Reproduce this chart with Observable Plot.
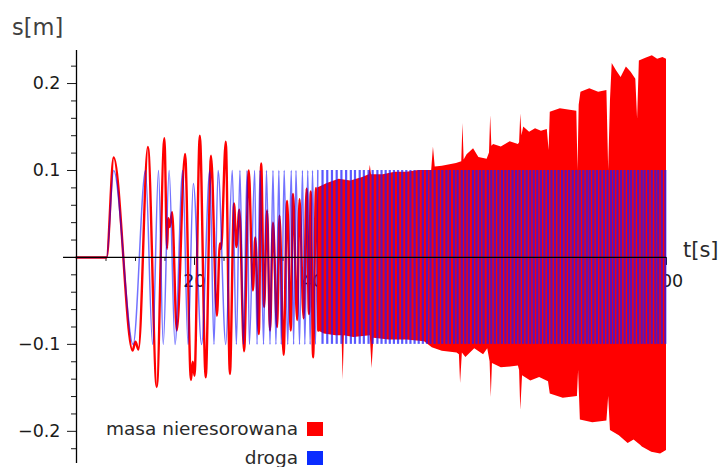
<!DOCTYPE html>
<html>
<head>
<meta charset="utf-8">
<script src="https://cdn.jsdelivr.net/npm/d3@7"></script>
<script src="https://cdn.jsdelivr.net/npm/@observablehq/plot@0.6"></script>
<style>
  body { margin: 0; background: #fff; }
  #chart { width: 726px; height: 467px; overflow: hidden; }
  #chart svg { overflow: visible; }
</style>
</head>
<body>
<div id="chart"></div>
<script>
// Unsprung mass displacement s [m] at its turning points, up to t = 41 s
const massT = [0, 5.1, 6.3, 9.5, 10.0, 10.5, 12.1, 13.6, 14.9, 15.35, 15.55, 15.8, 16.2, 17.0, 18.4, 19.4, 19.7, 20.0, 20.9, 21.9, 22.8, 23.8, 24.3, 24.5, 25.3, 26.0, 26.7, 27.1, 27.6, 28.4, 29.2, 29.9, 30.3, 30.9, 31.3, 31.8, 32.3, 32.8, 33.3, 34.0, 34.4, 35.1, 35.7, 36.3, 36.7, 37.4, 37.8, 38.5, 39.0, 39.4, 39.7, 40.1, 40.6, 41.0];
const massS = [0, 0, 0.115, -0.107, -0.097, -0.106, 0.127, -0.149, 0.137, 0.01, 0.045, 0.035, 0.052, -0.084, 0.119, -0.141, -0.12, -0.136, 0.14, -0.138, 0.117, -0.067, 0.016, 0.01, 0.133, -0.134, 0.062, 0.012, 0.055, -0.108, 0.1, -0.038, 0.023, -0.088, 0.108, -0.057, 0.054, -0.084, 0.04, -0.08, 0.048, -0.112, 0.065, -0.084, 0.073, -0.072, 0.067, -0.07, 0.079, -0.065, 0.076, -0.115, 0.08, -0.084];

// Road profile (droga) turning points, up to t = 41 s
const roadT = [0, 5.1, 6.3, 9.6, 11.7, 12.9, 13.9, 14.7, 15.7, 16.7, 18.0, 18.9, 19.8, 21.2, 22.6, 23.3, 24.0, 25.3, 26.4, 27.1, 27.7, 28.3, 28.9, 29.3, 30.2, 30.6, 31.1, 31.7, 32.2, 32.8, 33.3, 33.8, 34.3, 34.7, 35.2, 35.8, 36.4, 36.8, 37.2, 37.8, 38.3, 38.7, 39.2, 39.6, 40.0, 40.5, 40.9];
const roadS = [0, 0, 0.1, -0.1, 0.1, -0.1, 0.1, -0.1, 0.1, -0.1, 0.1, -0.1, 0.085, -0.1, 0.1, -0.1, 0.1, -0.1, 0.1, -0.1, 0.1, -0.1, 0.1, -0.1, 0.1, -0.1, 0.1, -0.1, 0.1, -0.1, 0.1, -0.1, 0.1, -0.1, 0.1, -0.1, 0.1, -0.1, 0.1, -0.1, 0.1, -0.1, 0.1, -0.1, 0.1, -0.1, 0.1];

// Road profile after 41 s: one stroke per oscillation, amplitude 0.1 m
const roadAmp = 0.1;
const roadCycleT = [41.7, 42.5, 43.3, 44.1, 44.9, 45.7, 46.5, 47.2, 48.0, 48.7, 49.5, 50.2, 51.0, 51.7, 52.4, 53.1, 53.8, 54.5, 55.2, 55.9, 56.6, 57.3, 58.0, 58.7, 59.4, 60.0, 60.7, 61.4, 62.0, 62.7, 63.3, 64.0, 64.6, 65.3, 65.9, 66.5, 67.2, 67.8, 68.4, 69.0, 69.7, 70.3, 70.9, 71.5, 72.1, 72.7, 73.3, 73.9, 74.5, 75.1, 75.7, 76.3, 76.9, 77.5, 78.1, 78.7, 79.3, 79.9, 80.5, 81.1, 81.7, 82.3, 82.9, 83.5, 84.1, 84.7, 85.3, 85.9, 86.5, 87.0, 87.6, 88.2, 88.8, 89.4, 90.0, 90.6, 91.1, 91.7, 92.3, 92.9, 93.5, 94.0, 94.6, 95.2, 95.8, 96.3, 96.9, 97.5, 98.1, 98.6, 99.2, 99.8];

// Mass displacement after 41 s: upper and lower envelope of the oscillation
const envUpT = [40.9, 42.5, 44.5, 46.5, 48.5, 49.6, 49.8, 50.0, 52.0, 54.0, 56.0, 58.0, 60.2, 60.5, 60.8, 62.0, 64.4, 65.3, 65.5, 65.7, 66.2, 67.3, 68.2, 69.6, 70.0, 70.2, 70.4, 70.7, 72.0, 73.5, 74.9, 75.1, 75.3, 75.5, 75.8, 76.8, 77.8, 78.8, 79.8, 80.1, 80.3, 82.0, 84.8, 85.0, 85.2, 85.5, 87.0, 88.5, 89.9, 90.2, 90.5, 90.8, 91.5, 92.3, 93.2, 94.0, 94.8, 95.1, 95.4, 96.5, 97.6, 98.5, 99.4, 100];
const envUpS = [0.08, 0.085, 0.09, 0.088, 0.092, 0.095, 0.106, 0.095, 0.095, 0.098, 0.098, 0.1, 0.1, 0.127, 0.104, 0.105, 0.108, 0.11, 0.154, 0.112, 0.118, 0.125, 0.115, 0.113, 0.12, 0.163, 0.128, 0.13, 0.127, 0.133, 0.13, 0.132, 0.165, 0.14, 0.15, 0.144, 0.148, 0.145, 0.147, 0.123, 0.167, 0.171, 0.168, 0.1, 0.175, 0.19, 0.194, 0.19, 0.192, 0.1, 0.18, 0.223, 0.215, 0.207, 0.219, 0.213, 0.205, 0.159, 0.226, 0.229, 0.232, 0.228, 0.23, 0.228];
const envLoT = [40.9, 42.0, 44.0, 45.0, 45.2, 45.4, 47.0, 49.8, 50.1, 50.4, 53.0, 56.0, 59.0, 60.3, 62.0, 64.5, 64.9, 65.1, 65.4, 66.0, 67.5, 69.0, 69.7, 70.1, 70.3, 70.5, 72.0, 74.9, 75.1, 75.3, 75.6, 77.0, 78.5, 80.0, 80.3, 82.5, 84.9, 85.1, 85.4, 87.5, 89.9, 90.2, 90.5, 92.0, 93.5, 94.5, 95.6, 95.9, 97.5, 99.0, 100];
const envLoS = [-0.084, -0.088, -0.09, -0.09, -0.141, -0.09, -0.092, -0.09, -0.128, -0.093, -0.095, -0.095, -0.097, -0.104, -0.108, -0.11, -0.112, -0.145, -0.11, -0.115, -0.105, -0.112, -0.105, -0.12, -0.161, -0.122, -0.127, -0.125, -0.13, -0.176, -0.136, -0.142, -0.138, -0.143, -0.157, -0.162, -0.16, -0.13, -0.187, -0.19, -0.188, -0.16, -0.199, -0.205, -0.214, -0.21, -0.216, -0.218, -0.224, -0.226, -0.222];

// Axis ticks
const yTicks = [-0.2, -0.1, 0.1, 0.2];
const yMinorTicks = [-0.22, -0.18, -0.16, -0.14, -0.12, -0.08, -0.06, -0.04, -0.02, 0.02, 0.04, 0.06, 0.08, 0.12, 0.14, 0.16, 0.18, 0.22];
const xTicks = [20, 40, 60, 80, 100];
const xMinorTicks = [5, 10, 15, 25, 30, 35, 45, 50, 55, 65, 70, 75, 85, 90, 95];

const seriesNames = ["masa nieresorowana", "droga"];
const seriesColors = ["#ff0000", "#0a2cff"];

const W = 726, H = 467;
const marginTop = 50, marginBottom = 4, marginLeft = 76, marginRight = 60;
const yDomain = [-0.237, 0.238];
const pxPerY = (H - marginTop - marginBottom) / (yDomain[1] - yDomain[0]);

const mass = massT.map((t, i) => ({t, s: massS[i]}));
const road = roadT.map((t, i) => ({t, s: roadS[i]}));
const envUp = envUpT.map((t, i) => ({t, s: envUpS[i]}));
const envLo = envLoT.map((t, i) => ({t, s: envLoS[i]}));

const font = "DejaVu Sans";
const svg = Plot.plot({
  width: W, height: H,
  marginTop, marginBottom, marginLeft, marginRight,
  x: {domain: [0, 100], axis: null},
  y: {domain: yDomain},
  style: {fontFamily: font, fontSize: "17.5px", color: "#1a1a1a", background: "transparent", overflow: "visible"},
  marks: [
    // axis ticks and labels (drawn beneath the curves)
    Plot.axisY(yMinorTicks, {tickSize: 5, tickFormat: () => "", label: null}),
    Plot.axisY(yTicks, {tickSize: 9, tickPadding: 7, tickFormat: d3.format(".1f"), label: null, fontSize: 17.5}),
    Plot.ruleX(xMinorTicks, {x: d => d, y1: 0, y2: -4 / pxPerY, stroke: "#1a1a1a"}),
    Plot.ruleX(xTicks, {x: d => d, y1: 0, y2: -8 / pxPerY, stroke: "#1a1a1a"}),
    Plot.text(xTicks, {x: d => d, y: 0, dy: 24, text: d => String(d), fontSize: 17.5, fill: "#1a1a1a"}),

    // unsprung mass
    Plot.areaY(envUp, {x: "t", y1: 0, y2: "s", fill: seriesColors[0]}),
    Plot.areaY(envLo, {x: "t", y1: 0, y2: "s", fill: seriesColors[0]}),
    Plot.line(mass, {x: "t", y: "s", stroke: seriesColors[0], strokeWidth: 2.4, curve: "monotone-x"}),

    // road profile
    Plot.line(road, {x: "t", y: "s", stroke: "#0000ff", strokeOpacity: 0.55, strokeWidth: 1.5, curve: "monotone-x"}),
    Plot.ruleX(roadCycleT, {x: d => d, y1: -roadAmp, y2: roadAmp, stroke: "#1a1aff", strokeOpacity: 0.72, strokeWidth: 2.2}),

    // axes through the origin
    Plot.ruleY([0], {x1: -2.2, x2: 100, stroke: "#000", strokeWidth: 1.3}),
    Plot.ruleX([0], {y1: yDomain[0], y2: yDomain[1], stroke: "#000", strokeWidth: 1.3})
  ]
});

const root = d3.select(svg);
root.append("text").attr("x", 12).attr("y", 34.5).attr("text-anchor", "start")
  .attr("font-family", font).attr("font-size", 22.5).attr("fill", "#404040").text("s[m]");
root.append("text").attr("x", 683).attr("y", 256.5).attr("text-anchor", "start")
  .attr("font-family", font).attr("font-size", 21).attr("fill", "#2a2a2a").text("t[s]");

// legend
const legend = root.append("g").attr("font-family", font).attr("font-size", 18.5).attr("fill", "#2a2a2a").attr("text-anchor", "end");
seriesNames.forEach((name, i) => {
  const y = 422 + i * 29;
  legend.append("text").attr("x", 298).attr("y", y + 13).text(name);
  legend.append("rect").attr("x", 307).attr("y", y).attr("width", 16).attr("height", 14).attr("fill", seriesColors[i]);
});

document.getElementById("chart").appendChild(svg);
</script>
</body>
</html>
